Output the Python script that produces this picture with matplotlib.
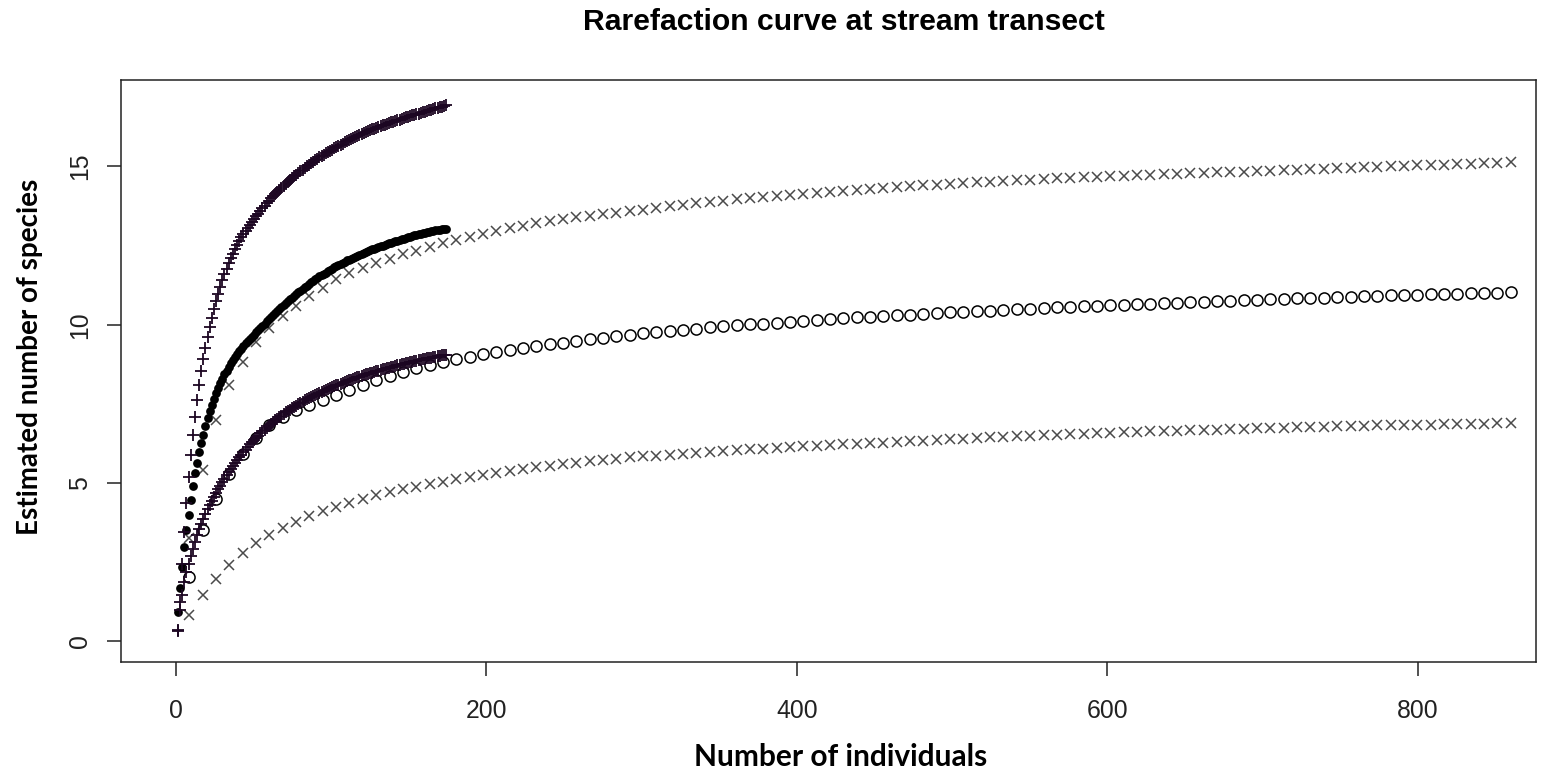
import numpy as np
import matplotlib
matplotlib.use("Agg")
import matplotlib.pyplot as plt

# sample sizes: short transect rarefied in 128 steps up to 174 individuals,
# long transect in 100 steps up to 860 individuals
n_short = np.arange(1, 129) * 174 / 128
n_long = np.arange(1, 101) * 8.6

# short transect, upper curve ('+')
plus_hi = [0.33, 1.26, 2.43, 3.47, 4.37, 5.18, 5.90, 6.53, 7.10, 7.62,
           8.10, 8.53, 8.92, 9.28, 9.62, 9.93, 10.22, 10.49, 10.74, 10.97,
           11.19, 11.40, 11.59, 11.77, 11.94, 12.10, 12.25, 12.39, 12.52, 12.64,
           12.76, 12.87, 12.97, 13.07, 13.16, 13.25, 13.33, 13.42, 13.51, 13.60,
           13.68, 13.76, 13.84, 13.92, 13.99, 14.06, 14.13, 14.20, 14.27, 14.33,
           14.39, 14.45, 14.51, 14.57, 14.63, 14.69, 14.74, 14.80, 14.85, 14.90,
           14.95, 15.00, 15.05, 15.10, 15.15, 15.20, 15.25, 15.29, 15.33, 15.37,
           15.41, 15.45, 15.49, 15.53, 15.57, 15.61, 15.65, 15.69, 15.72, 15.76,
           15.80, 15.83, 15.87, 15.90, 15.93, 15.96, 15.99, 16.02, 16.05, 16.08,
           16.11, 16.14, 16.17, 16.19, 16.22, 16.25, 16.27, 16.30, 16.32, 16.34,
           16.37, 16.39, 16.41, 16.44, 16.46, 16.48, 16.50, 16.52, 16.55, 16.57,
           16.59, 16.61, 16.63, 16.65, 16.67, 16.69, 16.71, 16.73, 16.75, 16.77,
           16.79, 16.81, 16.83, 16.85, 16.87, 16.89, 16.91, 16.93]

# short transect, observed (filled dots)
dots_mid = [0.92, 1.68, 2.36, 2.99, 3.52, 4.00, 4.48, 4.92, 5.31, 5.65,
            5.97, 6.26, 6.53, 6.79, 7.04, 7.27, 7.48, 7.67, 7.85, 8.01,
            8.16, 8.30, 8.43, 8.55, 8.67, 8.78, 8.88, 8.98, 9.07, 9.16,
            9.25, 9.33, 9.41, 9.48, 9.55, 9.62, 9.69, 9.76, 9.83, 9.90,
            9.97, 10.04, 10.11, 10.18, 10.24, 10.31, 10.37, 10.44, 10.50, 10.57,
            10.63, 10.69, 10.75, 10.81, 10.86, 10.92, 10.97, 11.03, 11.08, 11.13,
            11.19, 11.24, 11.29, 11.34, 11.39, 11.44, 11.48, 11.53, 11.57, 11.61,
            11.65, 11.69, 11.73, 11.77, 11.81, 11.85, 11.88, 11.92, 11.96, 11.99,
            12.03, 12.06, 12.09, 12.12, 12.15, 12.18, 12.21, 12.24, 12.27, 12.30,
            12.32, 12.35, 12.38, 12.40, 12.43, 12.45, 12.48, 12.50, 12.53, 12.55,
            12.57, 12.59, 12.62, 12.64, 12.66, 12.68, 12.70, 12.72, 12.74, 12.76,
            12.78, 12.80, 12.82, 12.84, 12.86, 12.87, 12.89, 12.90, 12.92, 12.93,
            12.95, 12.96, 12.98, 12.99, 13.00, 13.02, 13.03, 13.04]

# short transect, lower curve ('+')
plus_lo = [0.36, 0.98, 1.48, 1.88, 2.18, 2.45, 2.70, 2.93, 3.15, 3.36,
           3.55, 3.72, 3.88, 4.03, 4.17, 4.30, 4.43, 4.56, 4.68, 4.80,
           4.91, 5.02, 5.13, 5.24, 5.34, 5.44, 5.54, 5.63, 5.72, 5.81,
           5.90, 5.98, 6.06, 6.14, 6.22, 6.29, 6.36, 6.43, 6.50, 6.57,
           6.63, 6.69, 6.75, 6.81, 6.87, 6.93, 6.98, 7.03, 7.08, 7.13,
           7.18, 7.23, 7.28, 7.32, 7.37, 7.41, 7.45, 7.49, 7.53, 7.57,
           7.61, 7.65, 7.68, 7.72, 7.75, 7.79, 7.82, 7.85, 7.88, 7.91,
           7.94, 7.97, 8.00, 8.03, 8.06, 8.09, 8.11, 8.14, 8.17, 8.19,
           8.22, 8.24, 8.27, 8.29, 8.32, 8.34, 8.36, 8.39, 8.41, 8.43,
           8.45, 8.47, 8.49, 8.51, 8.53, 8.55, 8.57, 8.59, 8.61, 8.63,
           8.65, 8.67, 8.68, 8.70, 8.72, 8.74, 8.75, 8.77, 8.79, 8.80,
           8.82, 8.83, 8.85, 8.86, 8.88, 8.89, 8.91, 8.92, 8.94, 8.95,
           8.96, 8.98, 8.99, 9.00, 9.02, 9.03, 9.04, 9.05]

# long transect, upper curve ('x')
x_hi = [3.26, 5.40, 7.00, 8.10, 8.83, 9.45, 9.90, 10.27, 10.60, 10.90,
        11.17, 11.43, 11.63, 11.80, 11.95, 12.09, 12.22, 12.34, 12.46, 12.57,
        12.68, 12.78, 12.88, 12.97, 13.05, 13.13, 13.20, 13.27, 13.33, 13.39,
        13.44, 13.49, 13.54, 13.59, 13.64, 13.69, 13.74, 13.79, 13.84, 13.88,
        13.92, 13.96, 14.00, 14.04, 14.07, 14.10, 14.13, 14.16, 14.19, 14.22,
        14.25, 14.28, 14.31, 14.34, 14.37, 14.40, 14.42, 14.45, 14.47, 14.50,
        14.52, 14.54, 14.56, 14.58, 14.60, 14.62, 14.64, 14.66, 14.67, 14.69,
        14.71, 14.72, 14.74, 14.75, 14.77, 14.78, 14.80, 14.81, 14.82, 14.84,
        14.85, 14.86, 14.88, 14.89, 14.91, 14.92, 14.94, 14.95, 14.97, 14.98,
        15.00, 15.01, 15.03, 15.04, 15.06, 15.07, 15.09, 15.10, 15.11, 15.13]

# long transect, observed (open circles)
circ_mid = [2.05, 3.52, 4.50, 5.30, 5.92, 6.42, 6.82, 7.10, 7.30, 7.47,
            7.63, 7.79, 7.95, 8.11, 8.26, 8.39, 8.51, 8.62, 8.72, 8.82,
            8.91, 8.99, 9.07, 9.14, 9.21, 9.27, 9.33, 9.39, 9.44, 9.49,
            9.54, 9.59, 9.64, 9.68, 9.73, 9.77, 9.81, 9.85, 9.88, 9.92,
            9.95, 9.98, 10.01, 10.04, 10.07, 10.10, 10.13, 10.15, 10.18, 10.20,
            10.23, 10.25, 10.28, 10.30, 10.32, 10.34, 10.37, 10.39, 10.41, 10.43,
            10.45, 10.47, 10.49, 10.51, 10.53, 10.55, 10.56, 10.58, 10.60, 10.62,
            10.63, 10.65, 10.67, 10.68, 10.70, 10.71, 10.73, 10.74, 10.76, 10.77,
            10.79, 10.80, 10.82, 10.83, 10.85, 10.86, 10.88, 10.89, 10.90, 10.92,
            10.93, 10.94, 10.95, 10.96, 10.97, 10.98, 10.99, 11.00, 11.01, 11.02]

# long transect, lower curve ('x')
x_lo = [0.84, 1.47, 1.98, 2.42, 2.80, 3.10, 3.36, 3.58, 3.78, 3.95,
        4.11, 4.25, 4.38, 4.50, 4.61, 4.71, 4.80, 4.89, 4.97, 5.05,
        5.13, 5.20, 5.27, 5.33, 5.39, 5.45, 5.50, 5.55, 5.60, 5.65,
        5.69, 5.73, 5.77, 5.81, 5.84, 5.87, 5.90, 5.93, 5.96, 5.99,
        6.02, 6.04, 6.07, 6.09, 6.12, 6.14, 6.16, 6.18, 6.20, 6.22,
        6.24, 6.26, 6.28, 6.30, 6.32, 6.34, 6.36, 6.38, 6.40, 6.42,
        6.44, 6.46, 6.48, 6.49, 6.51, 6.53, 6.54, 6.56, 6.57, 6.59,
        6.60, 6.62, 6.63, 6.64, 6.66, 6.67, 6.68, 6.69, 6.71, 6.72,
        6.73, 6.74, 6.75, 6.76, 6.77, 6.78, 6.79, 6.80, 6.81, 6.82,
        6.83, 6.84, 6.85, 6.85, 6.86, 6.87, 6.88, 6.88, 6.89, 6.90]

x_ticks = [0, 200, 400, 600, 800]
y_ticks = [0, 5, 10, 15]

W, H = 1550, 772
fig = plt.figure(figsize=(W / 100, H / 100), dpi=100)
ax = fig.add_axes([121 / W, 1 - 662 / H, (1536 - 121) / W, (662 - 80) / H])

xcol = '#4a4a4a'
pcol = '#1c0622'
ax.plot(n_long, circ_mid, 'o', ms=8, mfc='none', mec='black', mew=1.1, zorder=2)
ax.plot(n_long, x_hi, 'x', ms=7, color=xcol, mew=1.1, zorder=2)
ax.plot(n_long, x_lo, 'x', ms=7, color=xcol, mew=1.1, zorder=2)
ax.plot(n_short, dots_mid, 'o', ms=6.3, color='black', mew=0, zorder=3)
ax.plot(n_short, plus_hi, '+', ms=8, color=pcol, mew=1.3, zorder=4)
ax.plot(n_short, plus_lo, '+', ms=8, color=pcol, mew=1.3, zorder=4)

ax.set_xlim(-35.4, 876.3)
ax.set_ylim(-0.65, 17.73)
ax.set_xticks(x_ticks)
ax.set_yticks(y_ticks)
for s in ax.spines.values():
    s.set_linewidth(1.1)
    s.set_color('#222222')

ax.tick_params(axis='both', length=10, width=1.1, color='#222222',
               labelsize=17.8, labelcolor='#222222')
ax.tick_params(axis='x', pad=17)
ax.tick_params(axis='y', pad=11)
for lab in ax.get_xticklabels():
    lab.set_family('Liberation Sans')
for lab in ax.get_yticklabels():
    lab.set_family('Liberation Sans')
    lab.set_rotation(90)
    lab.set_va('center')

fig.text(844 / W, 1 - 22 / H, 'Rarefaction curve at stream transect',
         ha='center', va='center', fontsize=21.7, fontweight='bold',
         family='Liberation Sans')
fig.text(841 / W, 1 - 757 / H, 'Number of individuals', ha='center',
         va='center', fontsize=21.5, fontweight='bold', family='Lato')
fig.text(30 / W, 1 - 357 / H, 'Estimated number of species', ha='center',
         va='center', rotation=90, fontsize=20, fontweight='bold',
         family='Lato')

fig.savefig('out.png', dpi=100)
